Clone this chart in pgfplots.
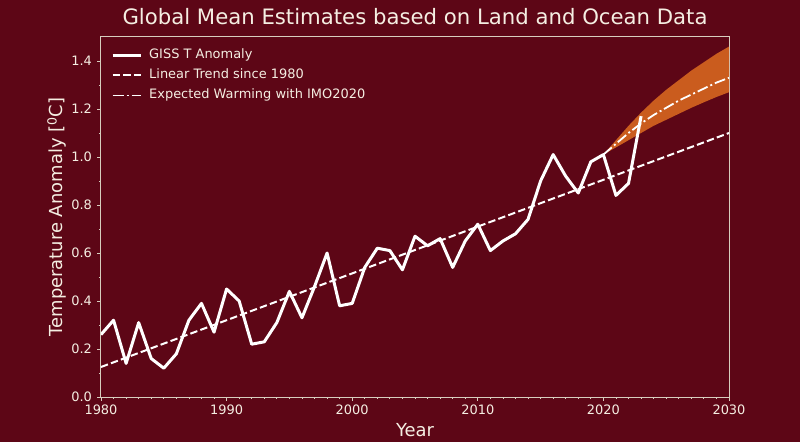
\documentclass[border=0pt]{standalone}
\usepackage{pgfplots}
\pgfplotsset{compat=1.18}
\usepackage{fontspec}
\setmainfont{DejaVu Sans}
\definecolor{bg}{RGB}{93,6,22}
\definecolor{band}{RGB}{202,92,30}
\definecolor{frame}{RGB}{215,205,190}
\definecolor{txt}{RGB}{245,238,226}
\begin{document}
\begin{tikzpicture}
\fill[bg] (-101bp,-45bp) rectangle (699bp,397bp);
\path[use as bounding box] (-101bp,-45bp) rectangle (699bp,397bp);
\begin{axis}[
  at={(0,0)}, anchor=south west,
  scale only axis, width=628bp, height=360bp,
  xmin=1980, xmax=2030, ymin=0, ymax=1.5,
  xtick={1980,1990,2000,2010,2020,2030},
  ytick={0,0.2,0.4,0.6,0.8,1.0,1.2,1.4},
  minor x tick num=9, minor y tick num=1,
  tick align=outside, tick pos=left,
  major tick length=3.5bp, minor tick length=2bp,
  every tick/.style={draw=frame, line width=0.8bp},
  axis line style={draw=frame, line width=1bp},
  /pgf/number format/assume math mode=true,
  tick label style={font=\fontsize{13}{15}\selectfont, text=txt},
  xticklabel style={/pgf/number format/1000 sep={}, yshift=-1bp},
  yticklabel style={/pgf/number format/.cd, fixed, fixed zerofill, precision=1, /tikz/xshift=-2bp},
  title={Global Mean Estimates based on Land and Ocean Data},
  title style={at={(0.5,1)}, anchor=base, yshift=7bp, font=\fontsize{21.3}{25}\selectfont, text=txt},
  xlabel={Year},
  xlabel style={at={(0.5,0)}, anchor=base, yshift=-39bp, font=\fontsize{18}{21}\selectfont, text=txt},
  ylabel={Temperature Anomaly [\textsuperscript{0}C]},
  ylabel style={at={(-0.0701,0.5)}, anchor=center, font=\fontsize{18}{21}\selectfont, text=txt},
  legend style={at={(0,1)}, anchor=north west, xshift=10bp, yshift=-10bp, draw=none, fill=none,
    inner sep=0pt, row sep=3.5bp, font=\fontsize{13}{15}\selectfont, text=txt,
    nodes={inner sep=2bp, text height=9.5bp, text depth=3bp},
    /tikz/every odd column/.append style={column sep=5bp}},
  legend cell align=left,
  legend image code/.code={\draw[#1] (0bp,0bp) -- (28bp,0bp);},
]
% uncertainty band
\addplot[fill=band, draw=none, forget plot] coordinates {
 (2020,1.01) (2021,1.07) (2022,1.13) (2023,1.185) (2024,1.235) (2025,1.28)
 (2026,1.32) (2027,1.36) (2028,1.395) (2029,1.43) (2030,1.46)
 (2030,1.27) (2029,1.25) (2028,1.228) (2027,1.205) (2026,1.18) (2025,1.155)
 (2024,1.13) (2023,1.10) (2022,1.07) (2021,1.04) (2020,1.01)
};
\addplot[white, line width=3bp, line join=round] coordinates {
 (1980,0.26) (1981,0.32) (1982,0.14) (1983,0.31) (1984,0.16) (1985,0.12)
 (1986,0.18) (1987,0.32) (1988,0.39) (1989,0.27) (1990,0.45) (1991,0.40)
 (1992,0.22) (1993,0.23) (1994,0.31) (1995,0.44) (1996,0.33) (1997,0.46)
 (1998,0.60) (1999,0.38) (2000,0.39) (2001,0.54) (2002,0.62) (2003,0.61)
 (2004,0.53) (2005,0.67) (2006,0.63) (2007,0.66) (2008,0.54) (2009,0.65)
 (2010,0.72) (2011,0.61) (2012,0.65) (2013,0.68) (2014,0.74) (2015,0.90)
 (2016,1.01) (2017,0.92) (2018,0.85) (2019,0.98) (2020,1.01) (2021,0.84)
 (2022,0.89) (2023,1.17)
};
\addlegendentry{GISS T Anomaly}
\addplot[white, line width=2bp, dash pattern=on 7.4bp off 3.2bp] coordinates {
 (1980,0.125) (2030,1.10)
};
\addlegendentry{Linear Trend since 1980}
\addplot[white, line width=1.8bp, dash pattern=on 11bp off 3bp on 2bp off 3bp] coordinates {
 (2020,1.01) (2021,1.055) (2022,1.10) (2023,1.14) (2024,1.175) (2025,1.205)
 (2026,1.235) (2027,1.26) (2028,1.285) (2029,1.31) (2030,1.33)
};
\addlegendentry{Expected Warming with IMO2020}
\end{axis}
\end{tikzpicture}
\end{document}
